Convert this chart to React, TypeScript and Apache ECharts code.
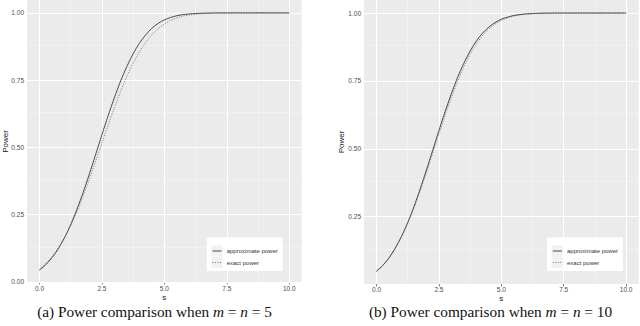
import React, { useEffect, useRef } from "react";
import * as echarts from "echarts";

const sValues = [
  0, 0.25, 0.5, 0.75, 1, 1.25, 1.5, 1.75, 2, 2.25, 2.5, 2.75, 3, 3.25, 3.5, 3.75, 4, 4.25, 4.5, 4.75, 5,
  5.25, 5.5, 5.75, 6, 6.25, 6.5, 6.75, 7, 7.25, 7.5, 7.75, 8, 8.25, 8.5, 8.75, 9, 9.25, 9.5, 9.75, 10,
];

// m = n = 5
const approx5 = [
  0.044, 0.064, 0.09, 0.123, 0.164, 0.213, 0.27, 0.333, 0.402, 0.474, 0.547, 0.618, 0.685, 0.747, 0.801,
  0.848, 0.887, 0.918, 0.943, 0.961, 0.974, 0.983, 0.9895, 0.9936, 0.9962, 0.9978, 0.9988, 0.9994, 0.9997,
  1, 1, 1, 1, 1, 1, 1, 1, 1, 1, 1, 1,
];
const exact5 = [
  0.046, 0.069, 0.094, 0.126, 0.165, 0.21, 0.262, 0.32, 0.383, 0.449, 0.516, 0.583, 0.648, 0.709, 0.764,
  0.813, 0.855, 0.89, 0.919, 0.941, 0.959, 0.972, 0.981, 0.988, 0.992, 0.995, 0.997, 0.998, 0.999, 0.9994,
  0.9997, 1, 1, 1, 1, 1, 1, 1, 1, 1, 1,
];

// m = n = 10
const approx10 = [
  0.049, 0.07, 0.098, 0.134, 0.177, 0.228, 0.287, 0.352, 0.422, 0.494, 0.567, 0.637, 0.703, 0.763, 0.815,
  0.86, 0.897, 0.926, 0.948, 0.965, 0.977, 0.985, 0.9908, 0.9945, 0.9968, 0.9982, 0.999, 0.9995, 0.9997,
  1, 1, 1, 1, 1, 1, 1, 1, 1, 1, 1, 1,
];
const exact10 = [
  0.049, 0.071, 0.098, 0.133, 0.175, 0.225, 0.281, 0.345, 0.412, 0.483, 0.554, 0.623, 0.689, 0.749, 0.802,
  0.848, 0.886, 0.917, 0.941, 0.959, 0.973, 0.982, 0.9887, 0.993, 0.9958, 0.9976, 0.9986, 0.9992, 0.9996,
  0.9998, 1, 1, 1, 1, 1, 1, 1, 1, 1, 1, 1,
];

const xTicks = [0, 2.5, 5, 7.5, 10];
const xMinor = [1.25, 3.75, 6.25, 8.75];
const yTicksLeft = [0, 0.25, 0.5, 0.75, 1];
const yTicksRight = [0.25, 0.5, 0.75, 1];
const yMinor = [0.125, 0.375, 0.625, 0.875];

const seriesNames = ["approximate power", "exact power"];
const xName = "s";
const yName = "Power";

const SANS = "'Liberation Sans', Arial, sans-serif";
const SERIF = "'Liberation Serif', 'Times New Roman', serif";

const SOLID_COLOR = "#222";
const DOT_COLOR = "#555";
const DOT_DASH = [1, 1.5];

function pairs(xs: number[], ys: number[]) {
  return xs.map((x, i) => [x, ys[i]]);
}

function gridLines(yMajor: number[]) {
  const major = { color: "#ffffff", width: 1, type: "solid" as const };
  const minor = { color: "#f7f7f7", width: 0.5, type: "solid" as const };
  return [
    ...xTicks.map((v) => ({ xAxis: v, lineStyle: major })),
    ...xMinor.map((v) => ({ xAxis: v, lineStyle: minor })),
    ...yMajor.map((v) => ({ yAxis: v, lineStyle: major })),
    ...yMinor.map((v) => ({ yAxis: v, lineStyle: minor })),
  ];
}

export default function App() {
  const ref = useRef<HTMLDivElement>(null);
  useEffect(() => {
    if (!ref.current) return;
    const chart = echarts.init(ref.current, null, { renderer: "svg" });

    const xAxisBase = (gridIndex: number) => ({
      type: "value" as const,
      gridIndex,
      min: -0.5,
      max: 10.5,
      name: xName,
      nameLocation: "middle" as const,
      nameGap: 10.5,
      nameMoveOverlap: false,
      nameTextStyle: { fontFamily: SANS, fontSize: 8, lineHeight: 8, color: "#1a1a1a" },
      axisLine: { show: false },
      splitLine: { show: false },
      axisTick: { show: true, customValues: xTicks, length: 2.5, lineStyle: { color: "#333", width: 0.6 } },
      axisLabel: {
        customValues: xTicks,
        formatter: (v: number) => v.toFixed(1),
        fontFamily: SANS,
        fontSize: 6.5,
        lineHeight: 6.5,
        color: "#4d4d4d",
        margin: 2.5,
      },
    });
    const yAxisBase = (gridIndex: number, min: number, ticks: number[], nameGap: number) => ({
      type: "value" as const,
      gridIndex,
      min,
      max: 1.048,
      name: yName,
      nameLocation: "middle" as const,
      nameRotate: 90,
      nameGap,
      nameMoveOverlap: false,
      nameTextStyle: { fontFamily: SANS, fontSize: 8, color: "#1a1a1a" },
      axisLine: { show: false },
      splitLine: { show: false },
      axisTick: { show: true, customValues: ticks, length: 2.5, lineStyle: { color: "#333", width: 0.6 } },
      axisLabel: {
        customValues: ticks,
        formatter: (v: number) => v.toFixed(2),
        fontFamily: SANS,
        fontSize: 6.5,
        color: "#4d4d4d",
        margin: 3,
      },
    });

    const helper = (idx: number, yMajor: number[]) => ({
      type: "line" as const,
      name: "grid" + idx,
      xAxisIndex: idx,
      yAxisIndex: idx,
      data: [],
      z: 1,
      silent: true,
      markLine: {
        silent: true,
        z: 1,
        symbol: ["none", "none"],
        label: { show: false },
        emphasis: { disabled: true },
        animation: false,
        data: gridLines(yMajor),
      },
    });

    const curve = (idx: number, name: string, ys: number[], dotted: boolean) => ({
      type: "line" as const,
      name,
      xAxisIndex: idx,
      yAxisIndex: idx,
      data: pairs(sValues, ys),
      showSymbol: false,
      symbol: "none",
      smooth: 0.3,
      z: 3,
      lineStyle: dotted
        ? { color: DOT_COLOR, width: 0.8, type: DOT_DASH as any }
        : { color: SOLID_COLOR, width: 0.8, type: "solid" as const },
      emphasis: { disabled: true },
    });

    const legendBox = (x: number) => {
      const y0 = 237.5;
      const keyX = x + 4.6;
      const rows = [251, 262.5];
      return [
        { type: "rect", z: 10, shape: { x, y: y0, width: 76, height: 33.5 }, style: { fill: "#ffffff" } },
        { type: "rect", z: 11, shape: { x: keyX, y: rows[0] - 5.6, width: 11.4, height: 11.3 }, style: { fill: "#f2f2f2" } },
        { type: "rect", z: 11, shape: { x: keyX, y: rows[1] - 5.6, width: 11.4, height: 11.3 }, style: { fill: "#f2f2f2" } },
        {
          type: "line",
          z: 12,
          shape: { x1: keyX + 1.2, y1: rows[0], x2: keyX + 10.2, y2: rows[0] },
          style: { stroke: SOLID_COLOR, lineWidth: 0.8 },
        },
        {
          type: "line",
          z: 12,
          shape: { x1: keyX + 1.2, y1: rows[1], x2: keyX + 10.2, y2: rows[1] },
          style: { stroke: DOT_COLOR, lineWidth: 0.8, lineDash: DOT_DASH },
        },
        ...seriesNames.map((name, i) => ({
          type: "text",
          z: 12,
          x: x + 20,
          y: rows[i],
          style: {
            text: name,
            fontFamily: SANS,
            fontSize: 6,
            fill: "#333",
            verticalAlign: "middle",
            align: "left",
          },
        })),
      ];
    };

    const titleText = (cx: number, label: string, num: string) => ({
      type: "text",
      x: cx,
      y: 311,
      z: 20,
      style: {
        text: `{a|${label} Power comparison when }{i|m}{a| = }{i|n}{a| = ${num}}`,
        align: "center",
        verticalAlign: "middle",
        fill: "#111",
        rich: {
          a: { fontFamily: SERIF, fontSize: 15.3, fill: "#111" },
          i: { fontFamily: SERIF, fontSize: 15.3, fontStyle: "italic", fill: "#111" },
        },
      },
    });

    chart.setOption({
      animation: false,
      grid: [
        { left: 23.3, top: 0, width: 278.4, height: 283, show: true, backgroundColor: "#ebebeb", borderWidth: 0 },
        { left: 364, top: 0, width: 274.6, height: 284, show: true, backgroundColor: "#ebebeb", borderWidth: 0 },
      ],
      xAxis: [xAxisBase(0), xAxisBase(1)],
      yAxis: [yAxisBase(0, -0.004, yTicksLeft, 18), yAxisBase(1, 0.002, yTicksRight, 19)],
      graphic: [
        ...legendBox(206.7),
        ...legendBox(547),
        titleText(154.5, "(a)", "5"),
        titleText(490.5, "(b)", "10"),
      ],
      series: [
        helper(0, yTicksLeft),
        helper(1, yTicksRight),
        curve(0, seriesNames[0], approx5, false),
        curve(0, seriesNames[1], exact5, true),
        curve(1, seriesNames[0], approx10, false),
        curve(1, seriesNames[1], exact10, true),
      ],
    });
    return () => chart.dispose();
  }, []);
  return (
    <div
      ref={ref}
      style={{ position: "fixed", left: 0, top: 0, width: 640, height: 326, background: "#ffffff" }}
    />
  );
}
